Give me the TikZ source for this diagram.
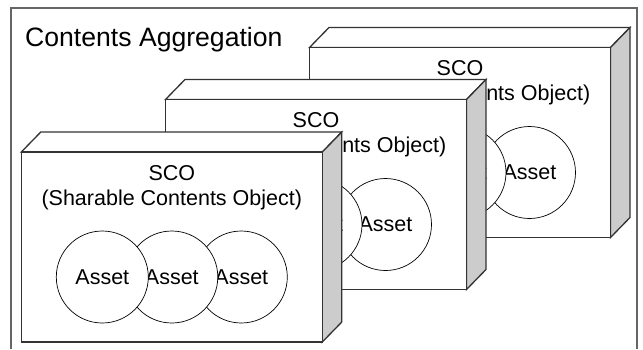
\documentclass[tikz,border=0pt]{standalone}
\usepackage{fontspec}
\setmainfont{Liberation Sans}
\begin{document}
\begin{tikzpicture}[x=1pt,y=-1pt,
  edge/.style={draw=black!80,line width=1.3pt,line join=miter},
  sidefill/.style={fill=black!20},
  frameline/.style={draw=black!60,line width=1.2pt},
  label/.style={font=\fontsize{21.5}{25}\selectfont,inner sep=0pt},
  asset/.style={circle,draw=black,line width=0.7pt,fill=white,minimum size=92pt,inner sep=0pt,
    font=\fontsize{21.5}{25}\selectfont},
  scobox/.pic={
    % top face
    \path[edge,fill=white] (0,0) -- (19.5,-20) -- (320.5,-20) -- (301,0) -- cycle;
    % right side face
    \path[edge,sidefill] (301,0) -- (320.5,-20) -- (320.5,170) -- (301,190) -- cycle;
    % front face
    \path[edge,fill=white] (0,0) rectangle (301,190);
    \node[label,anchor=base] (-sco) at (150.5,28) {SCO};
    \node[label,anchor=base] (-name) at (150.5,53) {(Sharable Contents Object)};
    \node[asset] (-a3) at (220,125) {\raisebox{-1pt}{Asset}};
    \node[asset] (-a2) at (150.5,125) {\raisebox{-1pt}{Asset}};
    \node[asset] (-a1) at (81,125) {\raisebox{-1pt}{Asset}};
  }]
\useasboundingbox[fill=white] (0,0) rectangle (643,349);
% surrounding frame, open at the bottom
\path[frameline] (11,349) -- (11,8) -- (637,8) -- (637,349);
\node[anchor=base west,inner sep=0pt,font=\fontsize{26.6}{30}\selectfont] (title) at (25,46.5) {Contents Aggregation};
% three stacked SCO boxes, back to front
\pic (back) at (309.5,47.5) {scobox};
\pic (middle) at (165.5,99.5) {scobox};
\pic (front) at (21.3,152) {scobox};
\end{tikzpicture}
\end{document}
